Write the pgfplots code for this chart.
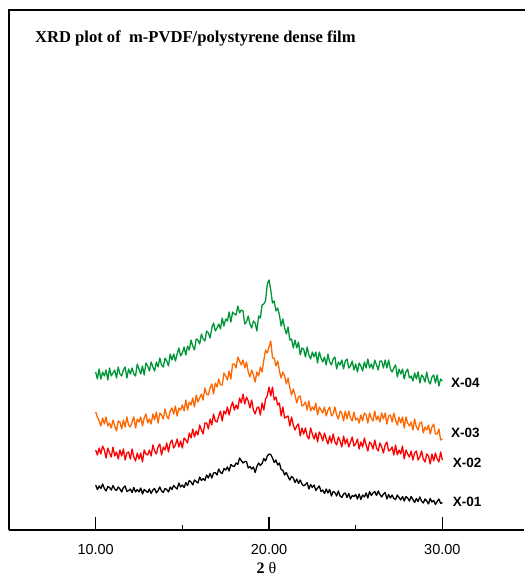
\documentclass[border=0pt]{standalone}
\usepackage{fontspec}
\setmainfont{Liberation Serif}
\setsansfont{Liberation Sans}
\usepackage{pgfplots}
\usepackage{pgfplotstable}
\pgfplotsset{compat=1.18}
\definecolor{xgreen}{RGB}{0,150,55}
\definecolor{xorange}{RGB}{255,102,0}
\definecolor{xred}{RGB}{255,0,0}
\pgfplotstableread{
x k r o g
10.0 45 80 118 158
10.1 40.5 75 113 151
10.2 44 82 109 161
10.3 41.5 76 104 151
10.4 46 84 112 158
10.5 41.5 80 106 154
10.6 39 72 113 160
10.7 43.5 82 104 150
10.8 42.5 77 107 162
10.9 40 73 102 154
11.0 44.5 83 110 157
11.1 41 74 104 160
11.2 39.5 78 99 152
11.3 43 71 109 163
11.4 41 80 108 156
11.5 38 74 101 154
11.6 42.5 81 110 160
11.7 44 70 103 163
11.8 38.5 77 113 152
11.9 39.5 78 105 161
12.0 41 71 103 156
12.1 37.5 81 108 162
12.2 42.5 73 113 156
12.3 38 69 102 154
12.4 40.5 77 111 166
12.5 38 71 108 161
12.6 42 77 113 156
12.7 36 68 104 164
12.8 40.5 80 112 155
12.9 39 76 116 167
13.0 37.5 75 107 164
13.1 41 80 111 159
13.2 36.5 74 106 168
13.3 40 85 116 163
13.4 41.5 79 110 159
13.5 37 76 118 168
13.6 39.5 83 107 163
13.7 43 86 117 172
13.8 39 75 115 165
13.9 37.5 83 111 163
14.0 41.5 80 121 172
14.1 40.5 87 114 169
14.2 38 78 111 164
14.3 43 87 119 176
14.4 40.5 90 122 170
14.5 44.5 82 116 176
14.6 42.5 85 124 169
14.7 41 91 114 176
14.8 47 83 122 182
14.9 43 89 120 174
15.0 45 82 125 177
15.1 42.5 92 119 183
15.2 47.5 90 130 175
15.3 44.5 87 120 184
15.4 49.5 97 128 180
15.5 48 92 125 190
15.6 45 101 132 184
15.7 50 93 123 180
15.8 48.5 99 135 191
15.9 47 95 128 190
16.0 53 105 132 186
16.1 49.5 100 136 196
16.2 51.5 96 130 191
16.3 49.5 107 142 189
16.4 55 107 136 199
16.5 52 101 135 197
16.6 56.5 111 142 192
16.7 52 105 146 202
16.8 57 116 136 207
16.9 57.5 109 147 199
17.0 55 108 143 202
17.1 61 114 151 206
17.2 57.5 119 145 201
17.3 56.5 109 145 212
17.4 61.5 119 157 204
17.5 60 116 154 211
17.6 63 123 150 209
17.7 59 115 159 218
17.8 65.5 123 151 208
17.9 64 128 166 218
18.0 63.5 120 166 216
18.1 67 125 162 215
18.2 65.5 121 173 224
18.3 72 132 169 217
18.4 69.5 127 165 220
18.5 67 136 170 219
18.6 68.5 126 162 206
18.7 68.5 133 168 208
18.8 62 129 158 214
18.9 63.5 122 153 206
19.0 61 130 160 202
19.1 63 120 155 209
19.2 57.5 116 148 207
19.3 63.5 122 158 199
19.4 67 123 154 214
19.5 64.5 115 163 212
19.6 66.5 127 158 225
19.7 71.5 120 170 226
19.8 69 131 180 229
19.9 74 134 177 246
20.0 76 143 183 250
20.1 75.5 134 189 240
20.2 72 143 172 227
20.3 67.5 130 172 229
20.4 70 133 164 219
20.5 65 125 169 222
20.6 67 127 159 215
20.7 60.5 114 152 204
20.8 59.5 123 158 211
20.9 55 112 154 202
21.0 57.5 113 146 196
21.1 53.5 114 152 203
21.2 50 104 142 190
21.3 53.5 113 135 191
21.4 52 105 141 182
21.5 47.5 100 135 190
21.6 51 104 127 182
21.7 46.5 106 133 188
21.8 50 94 134 175
21.9 46 102 124 182
22.0 44 96 125 181
22.1 45.5 102 128 173
22.2 47.5 94 120 183
22.3 41 91 129 175
22.4 45.5 102 119 171
22.5 42.5 96 123 178
22.6 45 91 120 173
22.7 39.5 97 127 178
22.8 42 88 115 167
22.9 44 98 123 178
23.0 38.5 95 120 172
23.1 40 89 117 168
23.2 36.5 97 123 173
23.3 41 91 114 165
23.4 37 86 120 176
23.5 40.5 94 123 168
23.6 34 87 114 165
23.7 38.5 96 116 171
23.8 37.5 88 123 173
23.9 34 85 115 161
24.0 39 93 111 168
24.1 34 89 119 165
24.2 32.5 83 117 170
24.3 36 94 109 161
24.4 37 86 119 169
24.5 32.5 91 111 171
24.6 36.5 83 119 162
24.7 31 88 112 164
24.8 34.5 93 109 169
24.9 33.5 84 118 160
25.0 35.5 86 110 166
25.1 31 91 112 158
25.2 36 81 107 167
25.3 30.5 88 115 164
25.4 35 83 109 159
25.5 33 92 117 168
25.6 37 85 115 162
25.7 32 79 107 171
25.8 38.5 88 117 162
25.9 34.5 86 112 166
26.0 37 81 109 161
26.1 38.5 90 119 170
26.2 34.5 82 110 165
26.3 39 79 114 160
26.4 35.5 87 108 169
26.5 33 83 117 169
26.6 36 77 111 162
26.7 37.5 85 117 170
26.8 31 88 106 162
26.9 35.5 79 114 170
27.0 32 80 115 161
27.1 35 83 108 158
27.2 31.5 75 117 162
27.3 30.5 85 110 165
27.4 35 75 105 153
27.5 32.5 80 113 161
27.6 30 76 107 156
27.7 33.5 84 113 161
27.8 29 71 102 151
27.9 33.5 80 113 158
28.0 32 76 107 161
28.1 29 73 104 152
28.2 33.5 79 108 154
28.3 30.5 70 100 149
28.4 27.5 77 111 157
28.5 31.5 79 103 151
28.6 28.5 70 100 158
28.7 33 73 107 147
28.8 29 79 108 155
28.9 27 71 97 153
29.0 31 68 103 148
29.1 29 76 100 158
29.2 26 74 105 149
29.3 31.5 66 96 146
29.4 28 76 103 153
29.5 29.5 69 106 155
29.6 25.5 77 96 147
29.7 28.5 71 96 155
29.8 31 68 101 144
29.9 26.5 78 90 151
30.0 27.5 70 91 149
}\xrd
\begin{document}
\begin{tikzpicture}
\begin{axis}[
  scale only axis,
  width=515pt, height=520pt,
  xmin=5, xmax=34.71, ymin=0, ymax=520,
  axis x line*=bottom, axis y line*=left,
  axis line style={-, line width=1.6pt},
  xtick={10,20,30}, minor xtick={15,25}, ytick=\empty,
  tick align=inside,
  major tick length=13pt, minor tick length=5pt,
  every tick/.style={line width=1.6pt, black},
  xticklabel style={font=\fontsize{14.5}{15}\sffamily, yshift=-11pt},
  /pgf/number format/assume math mode=true,
  /pgf/number format/.cd, fixed, fixed zerofill, precision=2, /pgfplots/.cd,
  xlabel={\textbf{2} θ},
  xlabel style={font=\fontsize{16}{16}\selectfont, at={(axis description cs:0.5,0)}, anchor=center, yshift=-38pt},
  clip=false,
]
\addplot[black, line width=1.3pt, line join=round] table[x=x, y=k] {\xrd};
\addplot[xred, line width=1.3pt, line join=round] table[x=x, y=r] {\xrd};
\addplot[xorange, line width=1.3pt, line join=round] table[x=x, y=o] {\xrd};
\addplot[xgreen, line width=1.3pt, line join=round] table[x=x, y=g] {\xrd};
\draw[line width=1.6pt, line cap=rect] (rel axis cs:0,1) -- (rel axis cs:1,1);
\node[anchor=west, font=\fontsize{16.6}{17}\bfseries] at (axis cs:6.3,492) {XRD plot of\ \ m-PVDF/polystyrene dense film};
\node[anchor=west, font=\fontsize{13.5}{14}\sffamily\bfseries] at (axis cs:30.3,147) {X-04};
\node[anchor=west, font=\fontsize{13.5}{14}\sffamily\bfseries] at (axis cs:30.3,97) {X-03};
\node[anchor=west, font=\fontsize{13.5}{14}\sffamily\bfseries] at (axis cs:30.4,67) {X-02};
\node[anchor=west, font=\fontsize{13.5}{14}\sffamily\bfseries] at (axis cs:30.4,28) {X-01};
\coordinate (ll) at (rel axis cs:0,0);
\coordinate (ur) at (rel axis cs:1,1);
\end{axis}
\pgfresetboundingbox
\path[use as bounding box] ([xshift=-9pt,yshift=-47pt]ll) rectangle ([yshift=10pt]ur);
\end{tikzpicture}
\end{document}
